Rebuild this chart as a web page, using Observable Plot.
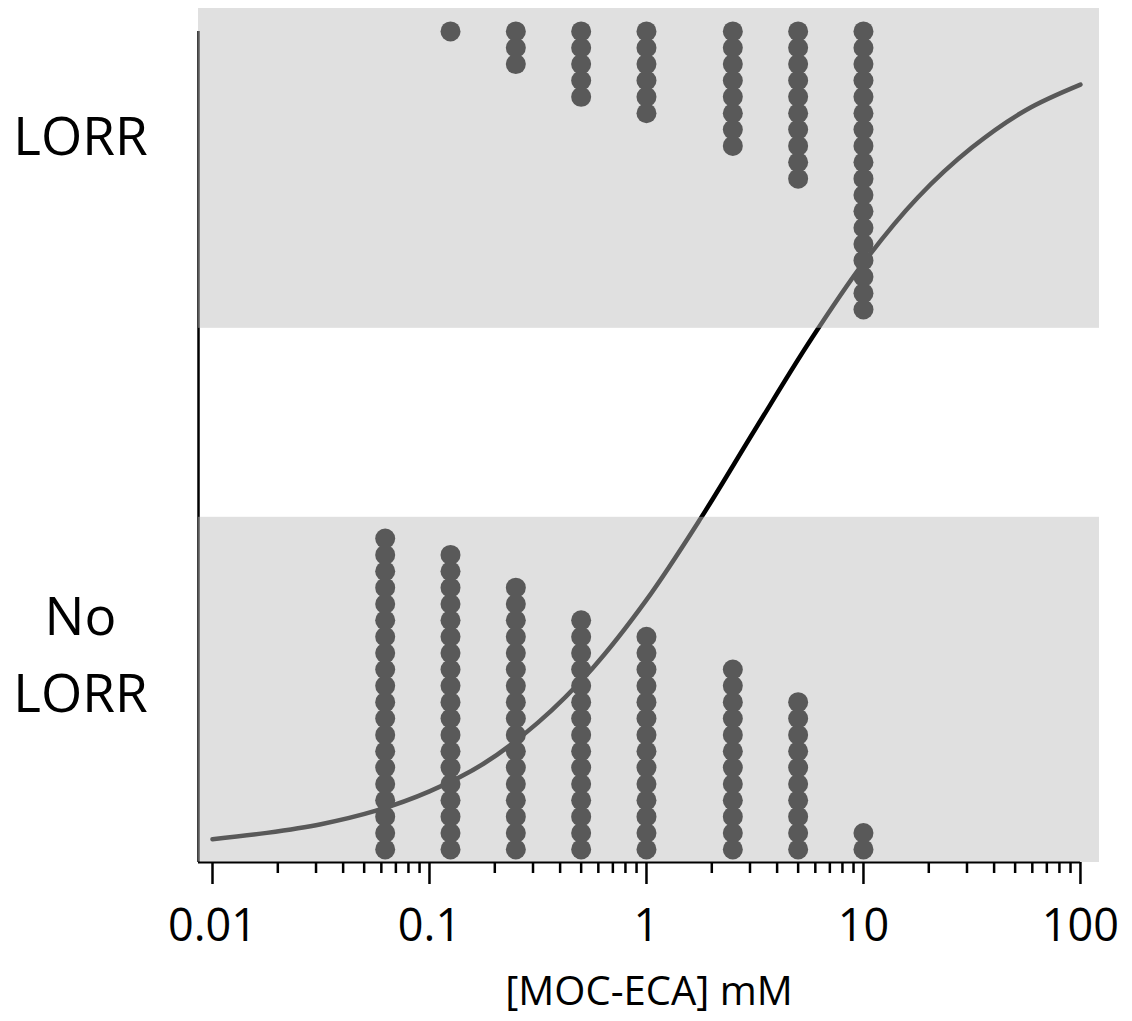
<!DOCTYPE html>
<html>
<head>
<meta charset="utf-8">
<script src="https://cdn.jsdelivr.net/npm/d3@7"></script>
<script src="https://cdn.jsdelivr.net/npm/@observablehq/plot@0.6"></script>
<style>
  html, body { margin: 0; padding: 0; background: white; }
</style>
</head>
<body>
<div id="chart"></div>
<script>
// ---- data ----
const doses = [0.0625, 0.125, 0.25, 0.5, 1, 2.5, 5, 10];
const lorrCounts = [0, 1, 3, 5, 6, 8, 10, 18];
const noLorrCounts = [20, 19, 17, 15, 14, 12, 10, 2];

// fitted response curve (every quarter decade)
const fitDose = [0.01, 0.0178, 0.0316, 0.0562, 0.1, 0.178, 0.316, 0.562, 1, 1.78, 3.16, 5.62, 10, 17.8, 31.6, 56.2, 100];
const fitProb = [0.0125, 0.0202, 0.0308, 0.047, 0.071, 0.105, 0.155, 0.221, 0.305, 0.405, 0.513, 0.62, 0.717, 0.797, 0.858, 0.904, 0.935];

// response bands (No LORR, LORR)
const bandNames = ["No LORR", "LORR"];
const bandLow = [-0.016, 0.637];
const bandHigh = [0.406, 1.028];

// category labels
const yLabels = ["LORR", "No\nLORR"];
const yLabelPos = [0.879, 0.245];

// axis ticks
const majorTicks = [0.01, 0.1, 1, 10, 100];
const majorLabels = ["0.01", "0.1", "1", "10", "100"];
const minorTicks = [0.02, 0.03, 0.04, 0.05, 0.06, 0.07, 0.08, 0.09,
                    0.2, 0.3, 0.4, 0.5, 0.6, 0.7, 0.8, 0.9,
                    2, 3, 4, 5, 6, 7, 8, 9,
                    20, 30, 40, 50, 60, 70, 80, 90];
const xLabel = "[MOC-ECA] mM";

// ---- build tables ----
const animalStep = 0.02; // one animal per stacked dot
const dots = [];
doses.forEach((d, j) => {
  for (let i = 0; i < lorrCounts[j]; i++) dots.push({dose: d, p: 1 - i * animalStep});
  for (let i = 0; i < noLorrCounts[j]; i++) dots.push({dose: d, p: i * animalStep});
});
const fit = fitDose.map((d, i) => ({dose: d, p: fitProb[i]}));
const bands = bandNames.map((n, i) => ({name: n, lo: bandLow[i], hi: bandHigh[i]}));
const labels = yLabels.map((t, i) => ({label: t, p: yLabelPos[i]}));
const fmt = new Map(majorTicks.map((t, i) => [t, majorLabels[i]]));

const X0 = 0.00862, X1 = 122.4;
const Y0 = -0.016, Y1 = 1.028;

const chart = Plot.plot({
  width: 1132,
  height: 1021,
  marginLeft: 198,
  marginRight: 33,
  marginTop: 8,
  marginBottom: 159,
  x: {type: "log", domain: [X0, X1]},
  y: {domain: [Y0, Y1], axis: null},
  style: {fontFamily: "'Open Sans', sans-serif", color: "black", background: "white"},
  marks: [
    Plot.line(fit, {x: "dose", y: "p", stroke: "black", strokeWidth: 4.5, curve: "catmull-rom"}),
    Plot.ruleX([X0], {y1: 1.0, y2: Y0, stroke: "black", strokeWidth: 2.5}),
    Plot.dot(dots, {x: "dose", y: "p", r: 10, fill: "black", stroke: "none"}),
    Plot.rect(bands, {x1: X0, x2: X1, y1: "lo", y2: "hi", fill: "#bdbdbd", fillOpacity: 0.47}),
    Plot.ruleY([Y0], {x1: X0, x2: 100, stroke: "black", strokeWidth: 2}),
    Plot.axisX(minorTicks, {tickSize: 11, strokeWidth: 2.5, strokeOpacity: 1, tickFormat: () => "", label: null}),
    Plot.axisX(majorTicks, {tickSize: 22, strokeWidth: 2.5, strokeOpacity: 1, tickPadding: 25, fontSize: 45,
                            tickFormat: d => fmt.get(d), label: null}),
    Plot.text([xLabel], {frameAnchor: "bottom", dy: 142, fontSize: 40, fill: "black"}),
    Plot.text(labels, {frameAnchor: "left", y: "p", text: "label", dx: -118, fontSize: 53,
                       lineHeight: 1.46, textAnchor: "middle", fill: "black"})
  ]
});
document.getElementById("chart").appendChild(chart);
</script>
</body>
</html>
